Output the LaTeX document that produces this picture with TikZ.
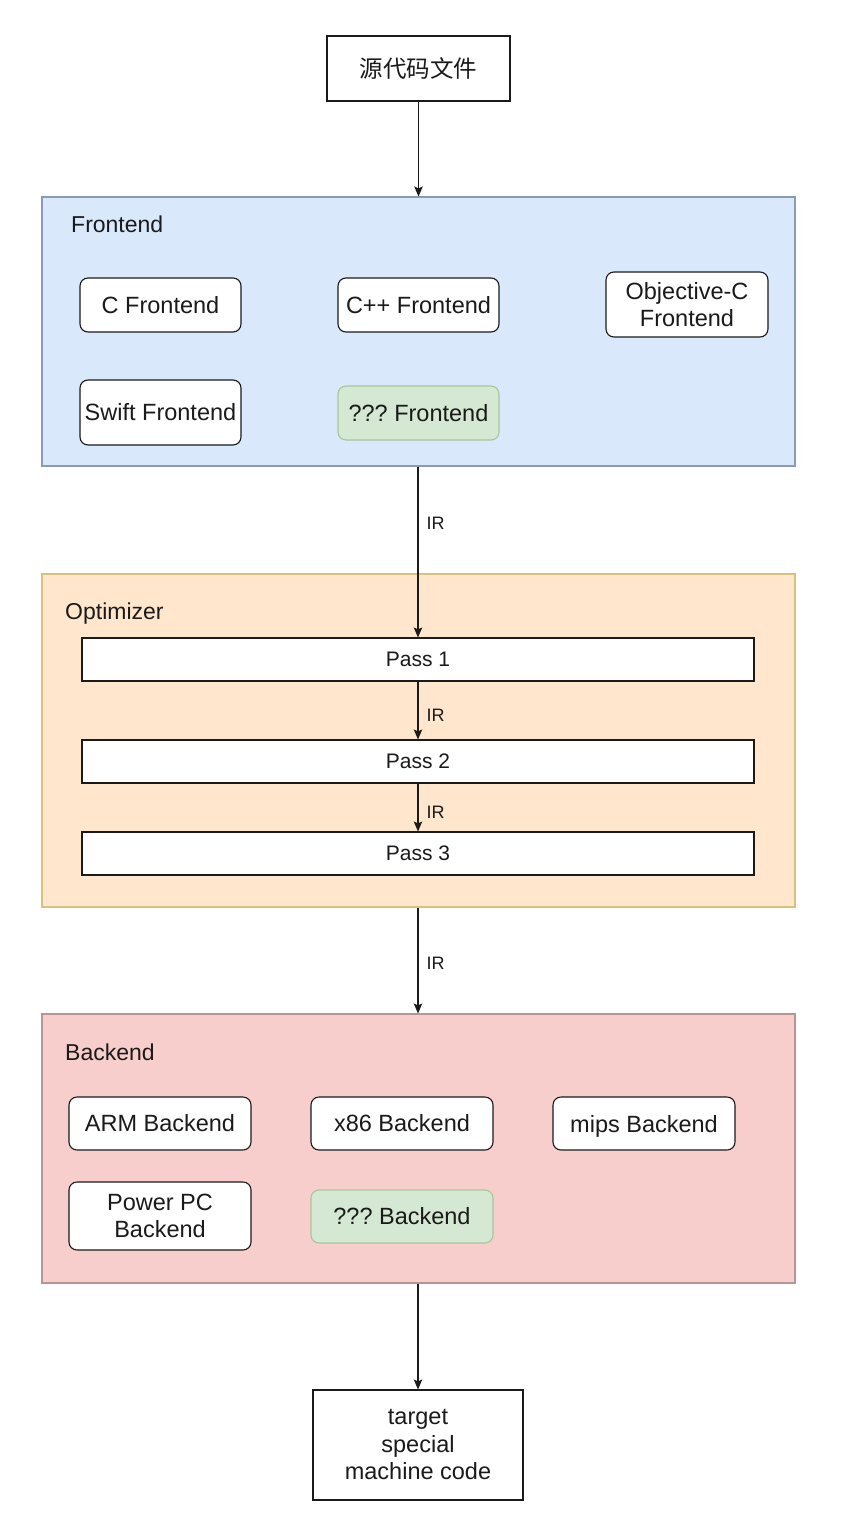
\documentclass[tikz,border=0pt]{standalone}
\usepackage{fontspec}
\setmainfont{Liberation Sans}
\newfontfamily\cjk{Noto Sans CJK SC}
\usetikzlibrary{arrows.meta}
\frenchspacing
\definecolor{feFill}{HTML}{DAE8FC}
\definecolor{feLine}{HTML}{8A9BB5}
\definecolor{opFill}{HTML}{FFE6CC}
\definecolor{opLine}{HTML}{D6C27A}
\definecolor{beFill}{HTML}{F8CECC}
\definecolor{beLine}{HTML}{B89594}
\definecolor{grFill}{HTML}{D5E8D4}
\definecolor{grLine}{HTML}{A9C59A}
\definecolor{ink}{HTML}{1A1A1A}
\tikzset{
  base/.style={draw=ink, line width=1.1pt, align=center, inner sep=0pt, text=ink,
    font=\fontsize{23.5}{27.5}\selectfont},
  rbox/.style={base, fill=white, rounded corners=8pt},
  gbox/.style={rbox, fill=grFill, draw=grLine},
  sbox/.style={base, fill=white},
  container/.style={line width=1.1pt, inner sep=0pt, minimum width=753pt},
  title/.style={anchor=base west, inner sep=0pt, text=ink, font=\fontsize{23}{27}\selectfont},
  passbox/.style={base, fill=white, minimum width=672pt, minimum height=43pt,
    font=\fontsize{21}{25}\selectfont},
  arr/.style={draw=ink, line width=1.1pt, -{Stealth[length=10pt,width=8.5pt,inset=2pt]}},
  irlab/.style={anchor=west, inner sep=0pt, xshift=8pt, text=ink, font=\fontsize{18}{22}\selectfont}
}
\begin{document}
\begin{tikzpicture}[x=1pt,y=-1pt]
\useasboundingbox[fill=white] (0,0) rectangle (844,1522);

% containers
\node[container, fill=feFill, draw=feLine, minimum height=269pt] (fe) at (418.5,331.5) {};
\node[title] (fet) at (71,232.5) {Frontend};
\node[container, fill=opFill, draw=opLine, minimum height=333pt] (op) at (418.5,740.5) {};
\node[title] (opt) at (65,619.5) {Optimizer};
\node[container, fill=beFill, draw=beLine, minimum height=269pt] (be) at (418.5,1148.5) {};
\node[title] (bet) at (65,1060.5) {Backend};

% source
\node[sbox, minimum width=183pt, minimum height=65pt, font=\cjk\fontsize{23.5}{27}\selectfont] (src) at (418.5,68.5) {源代码文件};

% frontends
\node[rbox, minimum width=161pt, minimum height=54pt] (cf) at (160.5,305) {C Frontend};
\node[rbox, minimum width=161pt, minimum height=54pt] (cppf) at (418.5,305) {C++ Frontend};
\node[rbox, minimum width=162pt, minimum height=65pt] (objf) at (687,304.5) {Objective-C\\Frontend};
\node[rbox, minimum width=161pt, minimum height=65pt] (swf) at (160.5,412.5) {Swift Frontend};
\node[gbox, minimum width=161pt, minimum height=54pt] (qf) at (418.5,413) {??? Frontend};

% passes
\node[passbox] (p1) at (418,659.5) {Pass 1};
\node[passbox] (p2) at (418,761.5) {Pass 2};
\node[passbox] (p3) at (418,853.5) {Pass 3};

% backends
\node[rbox, minimum width=182pt, minimum height=53pt] (arm) at (160,1123.5) {ARM Backend};
\node[rbox, minimum width=182pt, minimum height=53pt] (x86) at (402,1123.5) {x86 Backend};
\node[rbox, minimum width=182pt, minimum height=53pt, text depth=0pt] (mips) at (644,1123.5) {mips Backend};
\node[rbox, minimum width=182pt, minimum height=68pt] (ppc) at (160,1216) {Power PC\\Backend};
\node[gbox, minimum width=182pt, minimum height=53pt] (qb) at (402,1216.5) {??? Backend};

% target
\node[sbox, minimum width=210pt, minimum height=110pt] (tgt) at (418,1445) {target\\special\\machine code};

% connectors
\draw[arr] (src.south) -- (src.south |- fe.north);
\draw[arr] (fe.south -| p1.north) -- node[irlab, pos=.33] {IR} (p1.north);
\draw[arr] (p1.south) -- node[irlab, pos=.58] {IR} (p2.north);
\draw[arr] (p2.south) -- node[irlab, pos=.59] {IR} (p3.north);
\draw[arr] (op.south -| tgt.north) -- node[irlab, pos=.53] {IR} (be.north -| tgt.north);
\draw[arr] (be.south -| tgt.north) -- (tgt.north);
\end{tikzpicture}
\end{document}
